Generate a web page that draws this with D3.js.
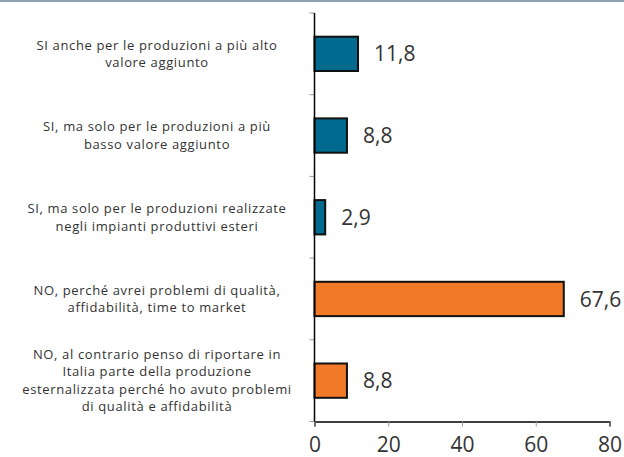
<!DOCTYPE html>
<html>
<head>
<meta charset="utf-8">
<script src="https://cdn.jsdelivr.net/npm/d3@7"></script>
<style>
  body { margin: 0; background: #fff; }
  text { font-family: "Open Sans", sans-serif; fill: #333; }
</style>
</head>
<body>
<div id="chart"></div>
<script>
// categories (top to bottom), each label split on its lines
var labels = [
    ["SI anche per le produzioni a più alto", "valore aggiunto"],
    ["SI, ma solo per le produzioni a più", "basso valore aggiunto"],
    ["SI, ma solo per le produzioni realizzate", "negli impianti produttivi esteri"],
    ["NO, perché avrei problemi di qualità,", "affidabilità, time to market"],
    ["NO, al contrario penso di riportare in", "Italia parte della produzione", "esternalizzata perché ho avuto problemi", "di qualità e affidabilità"]
];
var values = [11.8, 8.8, 2.9, 67.6, 8.8];
var barColors = ["#006b8f", "#006b8f", "#006b8f", "#f07a28", "#f07a28"];
var xTicks = [0, 20, 40, 60, 80];

function drawBars(selector){
    var width = 624, height = 457;
    var left = 314.5, right = 609.5, top = 13, bottom = 421.5;
    var svg = d3.select(selector)
        .append("svg")
        .attr("width", width)
        .attr("height", height);

    // thin rule at the very top
    svg.append("rect")
        .attr("x", 0).attr("y", 0)
        .attr("width", width).attr("height", 2)
        .attr("fill", "#8aa4b6");

    var idx = d3.range(values.length);
    var x = d3.scaleLinear().domain([0, 80]).range([left, right]);
    var y = d3.scaleBand().domain(idx).range([top, bottom])
        .paddingInner(0.58).paddingOuter(0.29);
    var step = y.step();

    // bars
    svg.selectAll(".bar")
        .data(idx).enter().append("rect")
        .attr("class", "bar")
        .attr("x", x(0))
        .attr("y", function(i){ return y(i); })
        .attr("width", function(i){ return x(values[i]) - x(0); })
        .attr("height", y.bandwidth())
        .attr("fill", function(i){ return barColors[i]; })
        .attr("stroke", "#111")
        .attr("stroke-width", 2);

    // value labels
    svg.selectAll(".val")
        .data(idx).enter().append("text")
        .attr("class", "val")
        .attr("x", function(i){ return x(values[i]) + 16; })
        .attr("y", function(i){ return y(i) + y.bandwidth() / 2; })
        .attr("dy", "0.36em")
        .attr("font-size", 21)
        .text(function(i){ return d3.format(".1f")(values[i]).replace(".", ","); });

    // category labels
    var lh = 17.5;
    var cat = svg.selectAll(".cat")
        .data(idx).enter().append("text")
        .attr("class", "cat")
        .attr("text-anchor", "middle")
        .attr("font-size", 13)
        .attr("letter-spacing", 0.65);
    cat.each(function(i){
        var lines = labels[i];
        var cy = y(i) + y.bandwidth() / 2;
        var y0 = cy - (lines.length - 1) * lh / 2;
        d3.select(this).selectAll("tspan")
            .data(lines).enter().append("tspan")
            .attr("x", 157)
            .attr("y", function(d, k){ return y0 + k * lh; })
            .attr("dy", "0.35em")
            .text(function(d){ return d; });
    });

    // y axis with ticks at band boundaries
    var bounds = idx.map(function(i){ return y(i) - step * 0.29; }).concat([bottom]);
    svg.selectAll(".ytick")
        .data(bounds).enter().append("line")
        .attr("x1", left - 5).attr("x2", left)
        .attr("y1", function(d){ return d; }).attr("y2", function(d){ return d; })
        .attr("stroke", "#999").attr("stroke-width", 1);
    svg.append("line")
        .attr("x1", left).attr("x2", left)
        .attr("y1", top).attr("y2", bottom)
        .attr("stroke", "#000").attr("stroke-width", 1.5);

    // x axis
    var gx = svg.append("g")
        .attr("transform", "translate(0," + bottom + ")")
        .call(d3.axisBottom(x).tickValues(xTicks).tickSize(5).tickPadding(11));
    gx.select(".domain").attr("stroke", "#000").attr("stroke-width", 1.5);
    gx.selectAll(".tick line").attr("stroke", "#999");
    gx.selectAll(".tick text")
        .attr("font-family", "Open Sans, sans-serif")
        .attr("font-size", 21)
        .attr("fill", "#333");
}

drawBars("#chart");
</script>
</body>
</html>
